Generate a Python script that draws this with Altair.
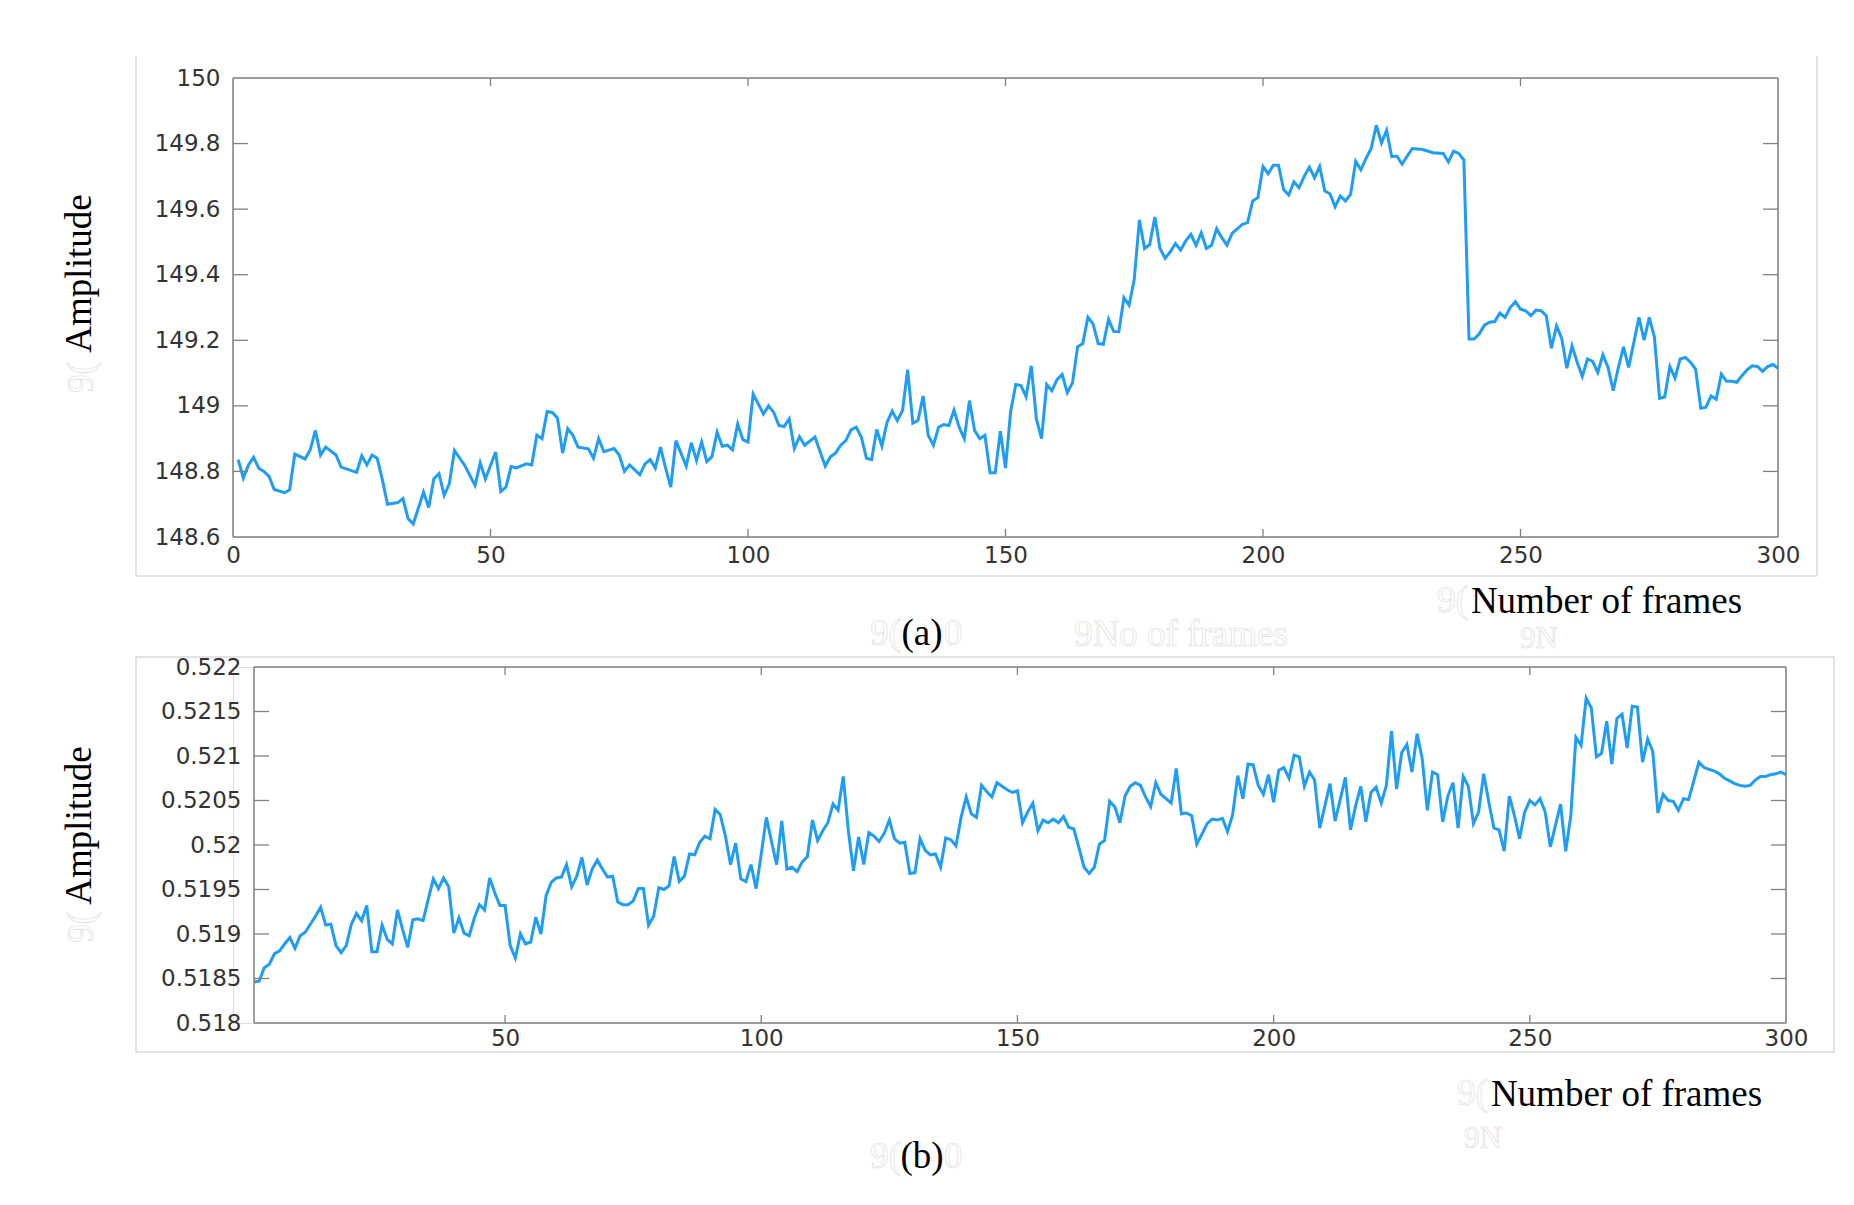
import altair as alt
import pandas as pd

# ---------------- data ----------------
frames_a = [
    1, 2, 3, 4, 5, 6, 7, 8, 10, 11,
    12, 14, 15, 16, 17, 18, 20, 21, 24, 25,
    26, 27, 28, 29, 30, 32, 33, 34, 35, 37,
    38, 39, 40, 41, 42, 43, 45, 47, 48, 49,
    51, 52, 53, 54, 55, 57, 58, 59, 60, 61,
    62, 63, 64, 65, 66, 67, 69, 70, 71, 72,
    74, 75, 76, 77, 79, 80, 81, 82, 83, 84,
    85, 86, 88, 89, 90, 91, 92, 93, 94, 95,
    96, 97, 98, 99, 100, 101, 103, 104, 105, 106,
    107, 108, 109, 110, 111, 113, 114, 115, 116, 117,
    118, 119, 120, 121, 122, 123, 124, 125, 126, 127,
    128, 129, 130, 131, 132, 133, 134, 135, 136, 137,
    138, 139, 140, 141, 142, 143, 144, 145, 146, 147,
    148, 149, 150, 151, 152, 153, 154, 155, 156, 157,
    158, 159, 160, 161, 162, 163, 164, 165, 166, 167,
    168, 169, 170, 171, 172, 173, 174, 175, 176, 177,
    178, 179, 180, 181, 182, 183, 184, 185, 186, 187,
    188, 189, 190, 191, 192, 193, 194, 195, 196, 197,
    198, 199, 200, 201, 202, 203, 204, 205, 206, 207,
    208, 209, 210, 211, 212, 213, 214, 215, 216, 217,
    218, 219, 220, 221, 222, 223, 224, 225, 226, 227,
    228, 229, 231, 233, 235, 236, 237, 238, 239, 240,
    241, 242, 243, 244, 245, 246, 247, 248, 249, 250,
    251, 252, 253, 254, 255, 256, 257, 258, 259, 260,
    261, 262, 263, 264, 265, 266, 267, 268, 269, 270,
    271, 272, 273, 274, 275, 276, 277, 278, 279, 280,
    281, 282, 283, 284, 285, 286, 287, 288, 289, 290,
    291, 292, 293, 294, 295, 296, 297, 298, 299, 300,
]
amplitude_a = [
    148.836, 148.780, 148.820, 148.843, 148.810, 148.800, 148.785, 148.745, 148.735, 148.744,
    148.853, 148.838, 148.866, 148.925, 148.850, 148.874, 148.850, 148.813, 148.797, 148.848,
    148.820, 148.850, 148.840, 148.775, 148.700, 148.705, 148.717, 148.656, 148.640, 148.737,
    148.690, 148.778, 148.793, 148.727, 148.762, 148.864, 148.818, 148.757, 148.826, 148.777,
    148.859, 148.739, 148.752, 148.815, 148.811, 148.823, 148.820, 148.911, 148.900, 148.983,
    148.980, 148.963, 148.856, 148.930, 148.910, 148.874, 148.869, 148.840, 148.900, 148.860,
    148.870, 148.850, 148.800, 148.820, 148.790, 148.823, 148.836, 148.810, 148.874, 148.810,
    148.752, 148.894, 148.816, 148.887, 148.833, 148.890, 148.830, 148.845, 148.920, 148.877,
    148.880, 148.866, 148.945, 148.897, 148.890, 149.036, 148.975, 149.000, 148.980, 148.940,
    148.937, 148.960, 148.870, 148.906, 148.880, 148.905, 148.860, 148.816, 148.845, 148.856,
    148.880, 148.894, 148.927, 148.935, 148.905, 148.840, 148.836, 148.928, 148.877, 148.950,
    148.984, 148.955, 148.986, 149.110, 148.947, 148.955, 149.030, 148.910, 148.880, 148.935,
    148.943, 148.940, 148.987, 148.935, 148.900, 149.016, 148.925, 148.900, 148.910, 148.796,
    148.796, 148.923, 148.810, 148.983, 149.065, 149.062, 149.028, 149.122, 148.960, 148.900,
    149.065, 149.046, 149.080, 149.096, 149.040, 149.070, 149.180, 149.190, 149.270, 149.250,
    149.190, 149.188, 149.264, 149.227, 149.226, 149.330, 149.307, 149.386, 149.567, 149.480,
    149.492, 149.576, 149.480, 149.450, 149.470, 149.495, 149.475, 149.503, 149.523, 149.490,
    149.528, 149.480, 149.490, 149.540, 149.513, 149.490, 149.526, 149.540, 149.554, 149.559,
    149.625, 149.635, 149.730, 149.708, 149.734, 149.734, 149.660, 149.643, 149.683, 149.665,
    149.700, 149.728, 149.696, 149.730, 149.655, 149.647, 149.607, 149.640, 149.625, 149.645,
    149.746, 149.720, 149.755, 149.785, 149.856, 149.802, 149.840, 149.760, 149.762, 149.737,
    149.762, 149.785, 149.782, 149.772, 149.770, 149.744, 149.777, 149.770, 149.750, 149.204,
    149.204, 149.220, 149.246, 149.255, 149.257, 149.283, 149.270, 149.300, 149.318, 149.295,
    149.290, 149.275, 149.292, 149.290, 149.275, 149.176, 149.244, 149.206, 149.115, 149.183,
    149.133, 149.090, 149.143, 149.136, 149.102, 149.156, 149.117, 149.046, 149.117, 149.180,
    149.117, 149.193, 149.270, 149.200, 149.270, 149.210, 149.023, 149.027, 149.120, 149.085,
    149.143, 149.148, 149.133, 149.112, 148.993, 148.996, 149.030, 149.020, 149.097, 149.075,
    149.075, 149.072, 149.092, 149.110, 149.122, 149.120, 149.105, 149.120, 149.126, 149.115,
]

frames_b = list(range(1, 301))
amplitude_b = [
    0.51846, 0.51847, 0.51862, 0.51866, 0.51878, 0.51881, 0.51889, 0.51896, 0.51884, 0.51898,
    0.51902, 0.51911, 0.51920, 0.51930, 0.51910, 0.51911, 0.51887, 0.51879, 0.51887, 0.51911,
    0.51923, 0.51915, 0.51932, 0.51880, 0.51880, 0.51910, 0.51894, 0.51889, 0.51927, 0.51905,
    0.51885, 0.51916, 0.51917, 0.51915, 0.51939, 0.51962, 0.51951, 0.51963, 0.51953, 0.51901,
    0.51918, 0.51901, 0.51898, 0.51918, 0.51933, 0.51927, 0.51963, 0.51946, 0.51932, 0.51932,
    0.51887, 0.51873, 0.51900, 0.51889, 0.51891, 0.51919, 0.51900, 0.51943, 0.51958, 0.51963,
    0.51964, 0.51978, 0.51953, 0.51965, 0.51986, 0.51955, 0.51973, 0.51983, 0.51973, 0.51964,
    0.51965, 0.51936, 0.51933, 0.51933, 0.51937, 0.51951, 0.51951, 0.51910, 0.51920, 0.51952,
    0.51950, 0.51954, 0.51987, 0.51959, 0.51965, 0.51990, 0.51989, 0.52003, 0.52010, 0.52007,
    0.52040, 0.52034, 0.52010, 0.51978, 0.52002, 0.51962, 0.51959, 0.51978, 0.51951, 0.51990,
    0.52031, 0.52004, 0.51978, 0.52027, 0.51973, 0.51975, 0.51970, 0.51981, 0.51987, 0.52028,
    0.52005, 0.52016, 0.52025, 0.52046, 0.52039, 0.52077, 0.52016, 0.51971, 0.52009, 0.51978,
    0.52014, 0.52010, 0.52004, 0.52013, 0.52028, 0.52007, 0.52002, 0.52003, 0.51968, 0.51969,
    0.52007, 0.51994, 0.51989, 0.51990, 0.51975, 0.52008, 0.52006, 0.51999, 0.52031, 0.52054,
    0.52035, 0.52031, 0.52067, 0.52060, 0.52054, 0.52070, 0.52066, 0.52062, 0.52059, 0.52061,
    0.52025, 0.52037, 0.52047, 0.52016, 0.52028, 0.52025, 0.52029, 0.52025, 0.52032, 0.52020,
    0.52018, 0.51997, 0.51975, 0.51968, 0.51975, 0.52001, 0.52005, 0.52049, 0.52043, 0.52025,
    0.52055, 0.52066, 0.52070, 0.52067, 0.52054, 0.52043, 0.52070, 0.52057, 0.52052, 0.52047,
    0.52086, 0.52035, 0.52036, 0.52033, 0.52001, 0.52012, 0.52024, 0.52029, 0.52028, 0.52030,
    0.52015, 0.52034, 0.52078, 0.52052, 0.52091, 0.52090, 0.52067, 0.52057, 0.52079, 0.52048,
    0.52084, 0.52087, 0.52075, 0.52101, 0.52099, 0.52066, 0.52082, 0.52073, 0.52019, 0.52044,
    0.52069, 0.52027, 0.52051, 0.52076, 0.52017, 0.52044, 0.52066, 0.52026, 0.52059, 0.52065,
    0.52047, 0.52067, 0.52128, 0.52063, 0.52104, 0.52113, 0.52082, 0.52125, 0.52097, 0.52039,
    0.52082, 0.52079, 0.52026, 0.52055, 0.52070, 0.52019, 0.52077, 0.52066, 0.52024, 0.52037,
    0.52080, 0.52048, 0.52019, 0.52017, 0.51993, 0.52055, 0.52033, 0.52007, 0.52037, 0.52050,
    0.52045, 0.52052, 0.52037, 0.51998, 0.52022, 0.52046, 0.51993, 0.52033, 0.52121, 0.52112,
    0.52165, 0.52154, 0.52099, 0.52103, 0.52139, 0.52091, 0.52142, 0.52147, 0.52109, 0.52156,
    0.52155, 0.52093, 0.52119, 0.52105, 0.52036, 0.52057, 0.52050, 0.52049, 0.52039, 0.52052,
    0.52051, 0.52072, 0.52093, 0.52087, 0.52085, 0.52083, 0.52080, 0.52075, 0.52072, 0.52069,
    0.52067, 0.52066, 0.52067, 0.52073, 0.52077, 0.52077, 0.52079, 0.52080, 0.52082, 0.52079,
]

x_ticks_a = [0, 50, 100, 150, 200, 250, 300]
y_ticks_a = [148.6, 148.8, 149.0, 149.2, 149.4, 149.6, 149.8, 150.0]
x_ticks_b = [50, 100, 150, 200, 250, 300]
y_ticks_b = [0.518, 0.5185, 0.519, 0.5195, 0.52, 0.5205, 0.521, 0.5215, 0.522]

x_title = "Number of frames"
y_title = "Amplitude"
captions = ["(a)", "(b)"]
# faint leftover (outlined) texts visible in the reference
ghost_a = ["9No of frames", "9N", "9(", "9(", "0", "9("]
ghost_b = ["9N", "9(", "9(", "0", "9("]

# ---------------- style ----------------
BLUE = "#1f9df2"
FRAME = "#808080"
PANEL = "#dadada"
GHOST = "#dedede"
LABEL = "#333333"
SERIF = "Liberation Serif"
SANS = "DejaVu Sans"
TICK_X_LEN = 8
TICK_Y_LEN = 15


def ghost_layer(text, x, y, align="center", angle=0, size=37):
    d = pd.DataFrame({"t": [text]})
    return alt.Chart(d).mark_text(font=SERIF, fontSize=size, fill="white", stroke=GHOST,
                                  strokeWidth=0.7, align=align, baseline="alphabetic",
                                  angle=angle).encode(
        x=alt.value(x), y=alt.value(y), text="t:N")


def panel(frames, amps, xframe, yframe, W, H, lead, xt, yt, inner_x, inner_y,
          ytx, yty, xtx, xty, x_lab_pad, cap, capx, capy, box, box_top_open, ghosts):
    """lead = blank pixels left of the frame inside the plot group (for layout offset)."""
    df = pd.DataFrame({"frame": frames, "amp": amps})
    x0, x1 = xframe
    per_px = (x1 - x0) / W
    xs = alt.Scale(domain=[x0 - lead * per_px, x1], nice=False, zero=False)
    ys = alt.Scale(domain=list(yframe), nice=False, zero=False)
    xax = alt.Axis(values=xt, ticks=False, domain=False, grid=False,
                   labelFlush=False, labelOverlap=False, labelPadding=x_lab_pad,
                   labelFont=SANS, labelFontSize=23, labelColor=LABEL,
                   title=x_title, titleFont=SERIF, titleFontSize=37,
                   titleFontWeight="normal", titleColor="black",
                   titleX=xtx, titleY=xty, titleAlign="center",
                   titleBaseline="alphabetic")
    yax = alt.Axis(values=yt, format=".4~g", ticks=False, domain=False, grid=False,
                   labelFlush=False, labelOverlap=False, labelPadding=13 - lead,
                   labelFont=SANS, labelFontSize=23, labelColor=LABEL,
                   title=y_title, titleFont=SERIF, titleFontSize=37,
                   titleFontWeight="normal", titleColor="black",
                   titleAngle=270, titleX=ytx, titleY=yty, titleAlign="center",
                   titleBaseline="top")
    xe = alt.X("frame:Q", scale=xs, axis=xax)
    ye = alt.Y("amp:Q", scale=ys, axis=yax)

    layers = []

    # faint outer panel border (figure frame of the pasted plot)
    bl, bt, br, bb = box
    one = pd.DataFrame({"k": [0]})
    if box_top_open:
        layers.append(alt.Chart(one).mark_rule(color=PANEL, strokeWidth=1.5).encode(
            x=alt.value(bl), y=alt.value(bt), y2=alt.value(bb)))
        layers.append(alt.Chart(one).mark_rule(color=PANEL, strokeWidth=1.5).encode(
            x=alt.value(br), y=alt.value(bt), y2=alt.value(bb)))
        layers.append(alt.Chart(one).mark_rule(color=PANEL, strokeWidth=1.5).encode(
            x=alt.value(bl), x2=alt.value(br), y=alt.value(bb)))
    else:
        layers.append(alt.Chart(one).mark_rect(fill="transparent", stroke=PANEL,
                                               strokeWidth=1.5).encode(
            x=alt.value(bl), x2=alt.value(br), y=alt.value(bt), y2=alt.value(bb)))

    for g in ghosts:
        layers.append(ghost_layer(*g))

    layers.append(alt.Chart(df).mark_line(color=BLUE, strokeWidth=3, clip=True).encode(x=xe, y=ye))

    # plot frame (box) drawn from the axis limits
    vdf = pd.DataFrame({"frame": [x0, x1]})
    hdf = pd.DataFrame({"amp": list(yframe), "frame": [x0, x0], "frame2": [x1, x1]})
    layers.append(alt.Chart(vdf).mark_rule(color=FRAME, strokeWidth=1.5).encode(
        x=xe, y=alt.value(0), y2=alt.value(H)))
    layers.append(alt.Chart(hdf).mark_rule(color=FRAME, strokeWidth=1.5).encode(
        y=ye, x=xe, x2="frame2:Q"))

    # inward ticks on all four sides
    xt_df = pd.DataFrame({"frame": inner_x})
    yt_df = pd.DataFrame({"amp": inner_y})
    layers.append(alt.Chart(xt_df).mark_rule(color=FRAME, strokeWidth=1.3).encode(
        x=xe, y=alt.value(0), y2=alt.value(TICK_X_LEN)))
    layers.append(alt.Chart(xt_df).mark_rule(color=FRAME, strokeWidth=1.3).encode(
        x=xe, y=alt.value(H - TICK_X_LEN), y2=alt.value(H)))
    layers.append(alt.Chart(yt_df).mark_rule(color=FRAME, strokeWidth=1.3).encode(
        y=ye, x=alt.value(lead), x2=alt.value(lead + TICK_Y_LEN)))
    layers.append(alt.Chart(yt_df).mark_rule(color=FRAME, strokeWidth=1.3).encode(
        y=ye, x=alt.value(lead + W - TICK_Y_LEN), x2=alt.value(lead + W)))

    cap_df = pd.DataFrame({"cap": [cap]})
    layers.append(alt.Chart(cap_df).mark_text(font=SERIF, fontSize=37, color="black",
                                              align="center", baseline="alphabetic").encode(
        x=alt.value(capx), y=alt.value(capy), text="cap:N"))

    return alt.layer(*layers).properties(width=W + lead, height=H)


ghosts_top = [
    (ghost_a[0], 948, 568, "center"),
    (ghost_a[1], 1306, 570, "center", 0, 31),
    (ghost_a[2], 1235, 534, "right"),
    (ghost_a[3], 668, 567, "right"),
    (ghost_a[4], 711, 567, "left"),
    (ghost_a[5], -140, 284, "right", 270),
]
ghosts_bottom = [
    (ghost_b[0], 1250, 481, "center", 0, 31),
    (ghost_b[1], 1255, 438, "right"),
    (ghost_b[2], 668, 501, "right"),
    (ghost_b[3], 711, 501, "left"),
    (ghost_b[4], -140, 245, "right", 270),
]

top = panel(frames_a, amplitude_a, (0, 300), (148.6, 150.0), 1545, 459, 0,
            x_ticks_a, y_ticks_a,
            [50, 100, 150, 200, 250], [148.8, 149.0, 149.2, 149.4, 149.6, 149.8],
            ytx=-172, yty=195, xtx=1373, xty=75, x_lab_pad=7,
            cap=captions[0], capx=689, capy=567,
            box=(-97, -22, 1584, 498), box_top_open=True, ghosts=ghosts_top)

bottom = panel(frames_b, amplitude_b, (1, 300), (0.518, 0.522), 1532, 356, 21,
               x_ticks_b, y_ticks_b,
               [50, 100, 150, 200, 250],
               [0.5185, 0.519, 0.5195, 0.52, 0.5205, 0.521, 0.5215],
               ytx=-172, yty=158, xtx=1393, xty=82, x_lab_pad=4,
               cap=captions[1], capx=689, capy=501,
               box=(-97, -10, 1601, 385), box_top_open=False, ghosts=ghosts_bottom)

chart = alt.vconcat(top, bottom, spacing=0).properties(
    padding={"left": 51, "top": 46, "right": 5, "bottom": 5}
).configure_view(stroke="transparent").configure(background="white")

chart.save("out.html", embed_options={"renderer": "svg", "actions": False})
